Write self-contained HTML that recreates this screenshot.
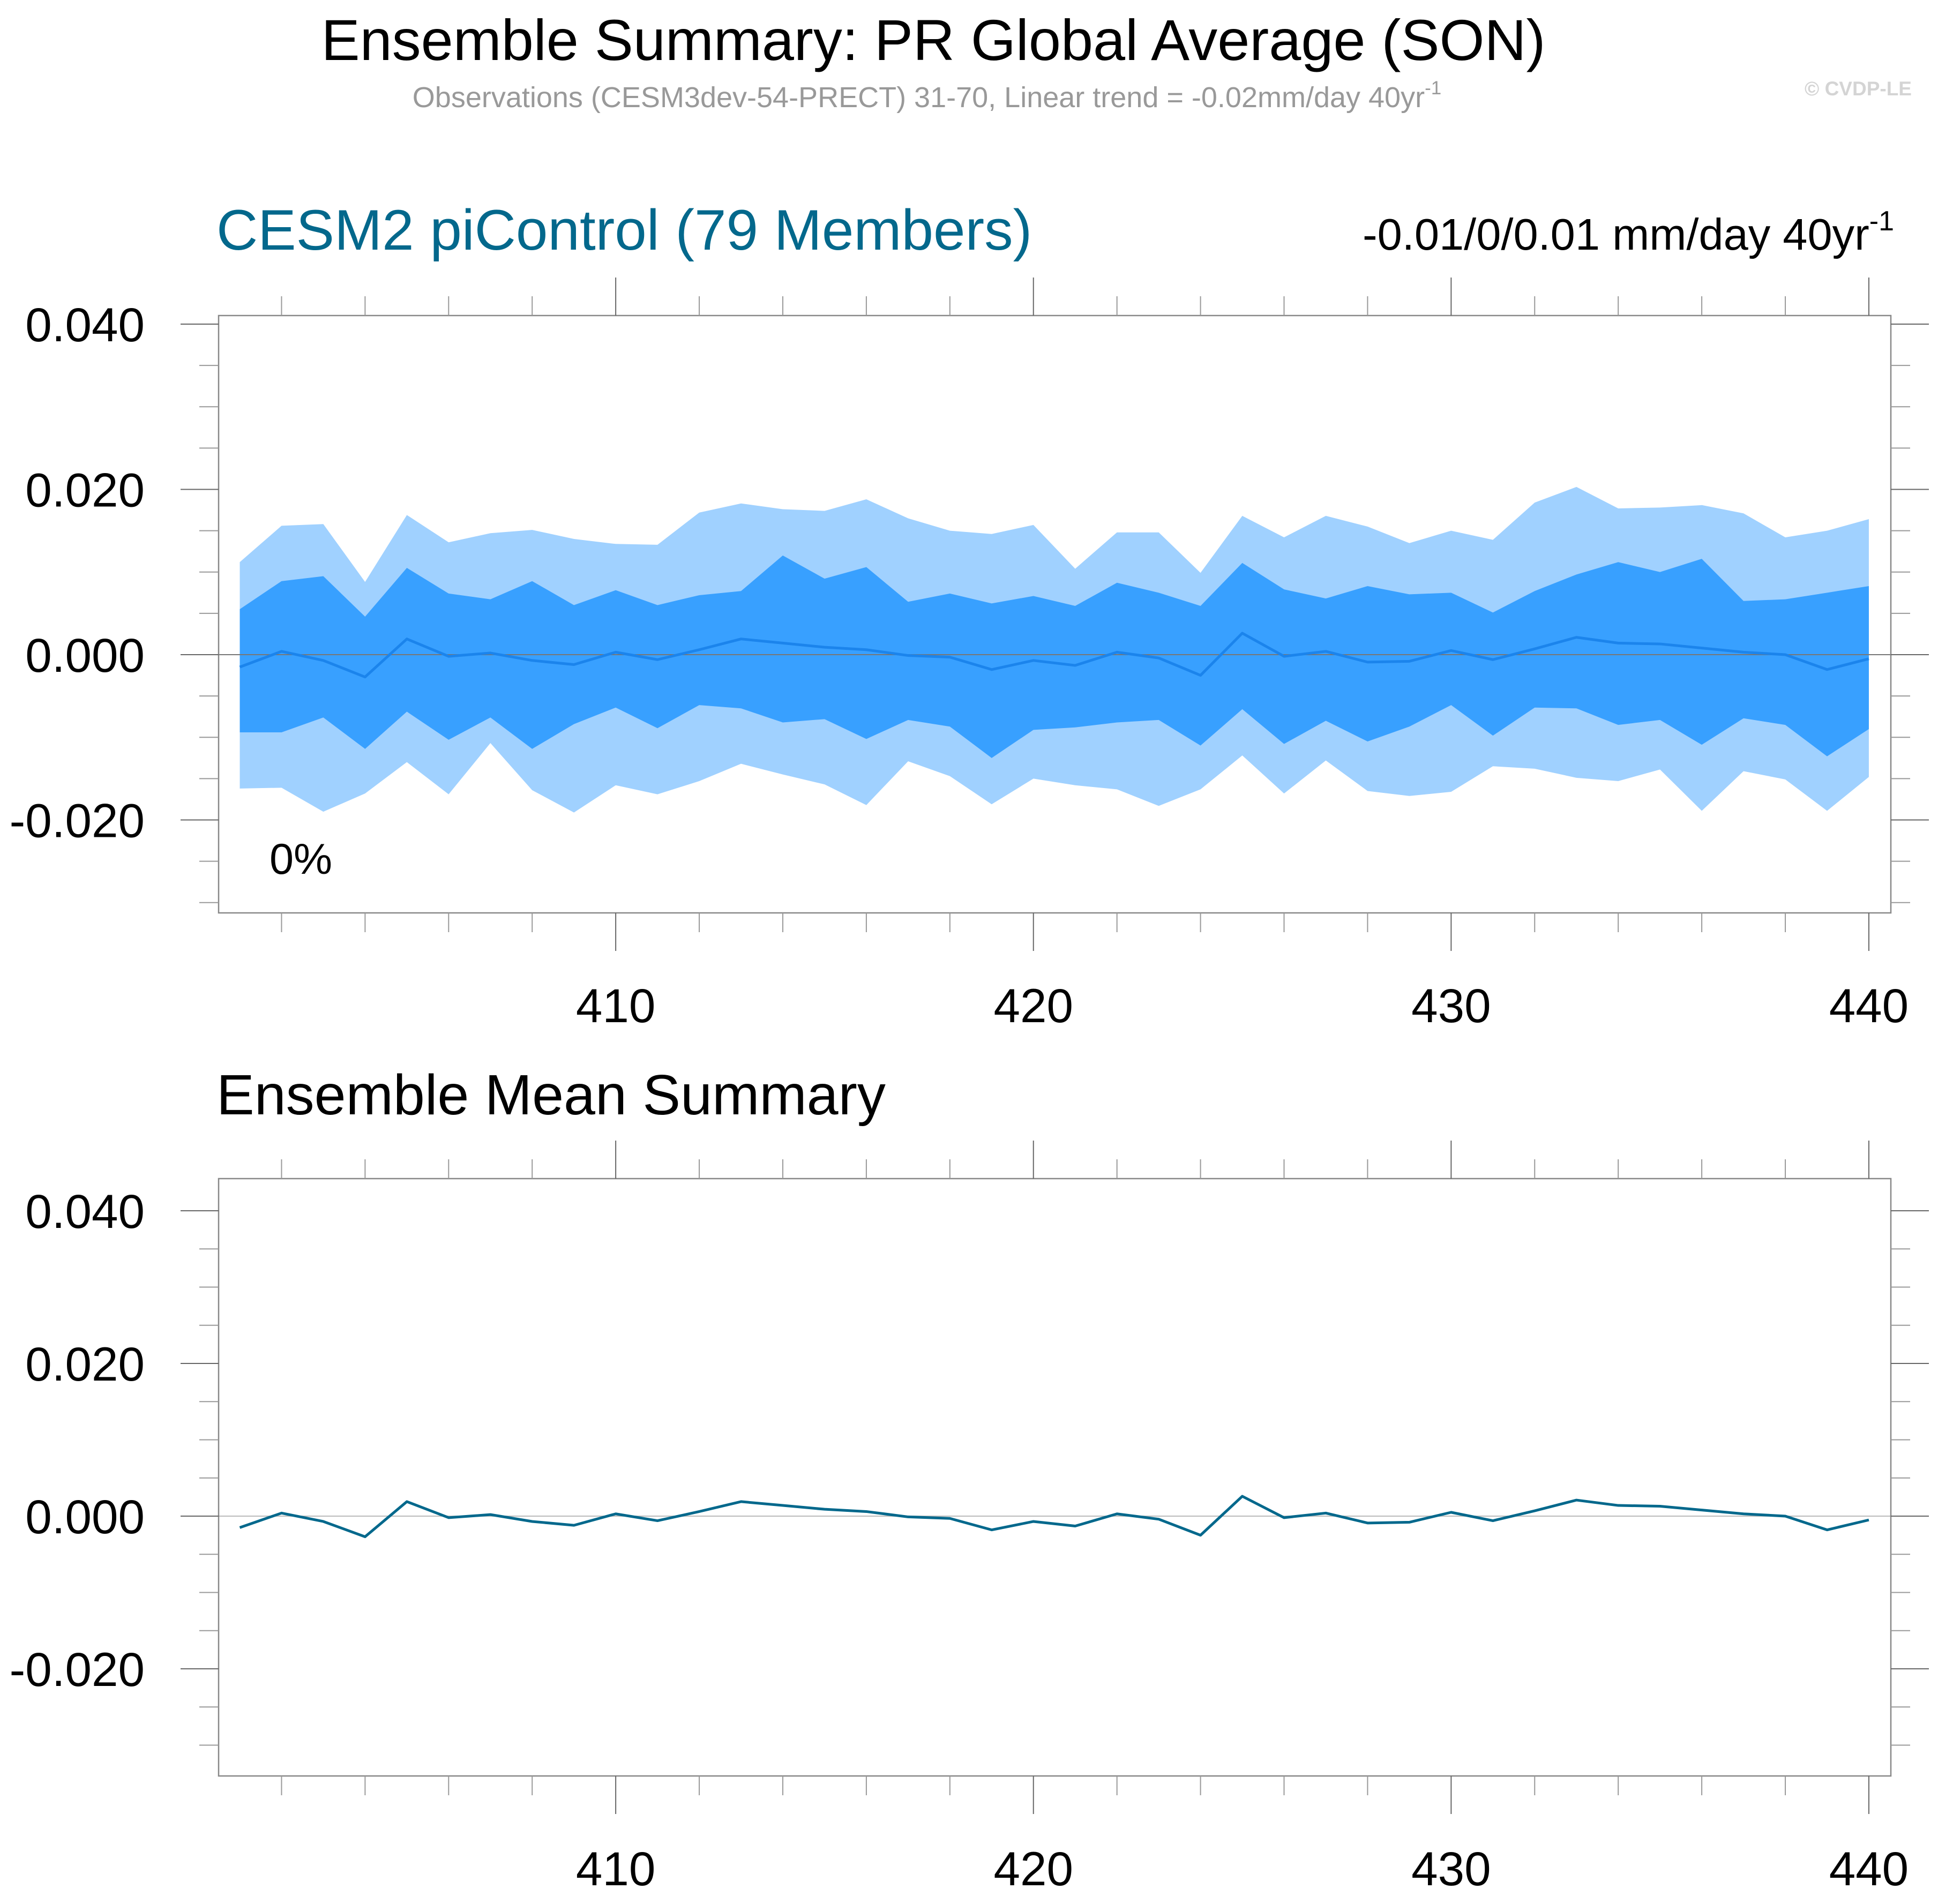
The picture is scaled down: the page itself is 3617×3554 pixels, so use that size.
<!DOCTYPE html>
<html><head><meta charset="utf-8">
<style>
html,body{margin:0;padding:0;background:#fff;}
svg{display:block;font-family:"Liberation Sans",sans-serif;}
</style></head>
<body>
<svg id="chart" width="3617" height="3554" viewBox="0 0 3617 3554" xmlns="http://www.w3.org/2000/svg">
<rect width="3617" height="3554" fill="#fff"/>
<text x="1742" y="112" font-size="108" text-anchor="middle" fill="#000">Ensemble Summary: PR Global Average (SON)</text>
<text x="1730" y="200" font-size="54" text-anchor="middle" fill="#999">Observations (CESM3dev-54-PRECT) 31-70, Linear trend = -0.02mm/day 40yr<tspan dy="-24" font-size="35">-1</tspan></text>
<text x="3568" y="178" font-size="37" font-weight="bold" text-anchor="end" fill="#d4d4d4">© CVDP-LE</text>
<text x="404" y="466" font-size="107" fill="#03688c">CESM2 piControl (79 Members)</text>
<text x="3535" y="466" font-size="83" text-anchor="end" fill="#000">-0.01/0/0.01 mm/day 40yr<tspan dy="-36" font-size="52">-1</tspan></text>
<text x="404" y="2080" font-size="106" fill="#000">Ensemble Mean Summary</text>
<g id="top"></g>
<g id="bot"></g>
<text x="503" y="1631" font-size="81" fill="#000">0%</text>
</svg>
<script>
const years = [];
for (let y = 401; y <= 440; y++) years.push(y);
const outerHigh = [0.0112,0.0156,0.0158,0.0088,0.0169,0.0136,0.0147,0.0151,0.0140,0.0134,0.0133,0.0172,0.0183,0.0176,0.0174,0.0188,0.0165,0.0150,0.0146,0.0157,0.0104,0.0148,0.0148,0.0099,0.0168,0.0142,0.0168,0.0155,0.0135,0.0150,0.0139,0.0184,0.0203,0.0177,0.0178,0.0181,0.0171,0.0142,0.0150,0.0164];
const innerHigh = [0.0055,0.0089,0.0095,0.0046,0.0105,0.0074,0.0067,0.0089,0.0060,0.0078,0.0060,0.0072,0.0077,0.0120,0.0092,0.0106,0.0064,0.0074,0.0062,0.0071,0.0059,0.0087,0.0075,0.0059,0.0111,0.0079,0.0068,0.0083,0.0073,0.0075,0.0051,0.0077,0.0097,0.0112,0.0100,0.0116,0.0065,0.0067,0.0075,0.0083];
const meanVals = [-0.0015,0.0004,-0.0007,-0.0027,0.0019,-0.0002,0.0002,-0.0007,-0.0012,0.0003,-0.0006,0.0006,0.0019,0.0014,0.0009,0.0006,-0.0001,-0.0003,-0.0018,-0.0007,-0.0013,0.0003,-0.0004,-0.0025,0.0026,-0.0002,0.0004,-0.0009,-0.0008,0.0005,-0.0006,0.0007,0.0021,0.0014,0.0013,0.0008,0.0003,0.0000,-0.0018,-0.0005];
const innerLow = [-0.0094,-0.0094,-0.0076,-0.0114,-0.0069,-0.0103,-0.0076,-0.0114,-0.0084,-0.0064,-0.0089,-0.0061,-0.0065,-0.0082,-0.0078,-0.0102,-0.0079,-0.0087,-0.0125,-0.0091,-0.0088,-0.0082,-0.0079,-0.0110,-0.0066,-0.0108,-0.0080,-0.0105,-0.0087,-0.0061,-0.0098,-0.0064,-0.0065,-0.0085,-0.0079,-0.0109,-0.0077,-0.0085,-0.0123,-0.0090];
const outerLow = [-0.0162,-0.0161,-0.0190,-0.0168,-0.0130,-0.0169,-0.0107,-0.0164,-0.0191,-0.0158,-0.0169,-0.0153,-0.0132,-0.0145,-0.0157,-0.0182,-0.0129,-0.0147,-0.0181,-0.0150,-0.0158,-0.0163,-0.0183,-0.0163,-0.0122,-0.0168,-0.0128,-0.0165,-0.0171,-0.0166,-0.0135,-0.0138,-0.0149,-0.0153,-0.0139,-0.0189,-0.0141,-0.0151,-0.0189,-0.0148];
const yMajorTicks = [0.04, 0.02, 0.0, -0.02];
const yMajorLabels = ["0.040", "0.020", "0.000", "-0.020"];
const xMajorTicks = [410, 420, 430, 440];
const xMajorLabels = ["410", "420", "430", "440"];

const NS = "http://www.w3.org/2000/svg";
function mk(parent, tag, attrs) {
  const e = document.createElementNS(NS, tag);
  for (const k in attrs) e.setAttribute(k, attrs[k]);
  parent.appendChild(e);
  return e;
}
const xs = yr => 447.5 + (yr - 401) * 77.96;
const L = 408, R = 3529;

function drawPanel(g, top, bottom, zeroY, pxPer002, isTop) {
  const ys = v => zeroY - v / 0.02 * pxPer002;
  if (isTop) {
    const upPts = years.map((y, i) => xs(y) + "," + ys(outerHigh[i]));
    const loPts = years.map((y, i) => xs(y) + "," + ys(outerLow[i])).reverse();
    const outer = mk(g, "polygon", {points: upPts.concat(loPts).join(" "), fill: "#a0d1ff"});
    
    
    const up2 = years.map((y, i) => xs(y) + "," + ys(innerHigh[i]));
    const lo2 = years.map((y, i) => xs(y) + "," + ys(innerLow[i])).reverse();
    const inner = mk(g, "polygon", {points: up2.concat(lo2).join(" "), fill: "#38a0ff"});
    
    
  }
  const zl = mk(g, "line", {x1: L, x2: R, y1: zeroY, y2: zeroY, stroke: isTop ? "#777" : "#bbb", "stroke-width": 2});
  
  
  const mp = years.map((y, i) => xs(y) + "," + ys(meanVals[i])).join(" ");
  const ml = mk(g, "polyline", {points: mp, fill: "none", stroke: isTop ? "#1b84ec" : "#02688c", "stroke-width": 5, "stroke-linejoin": "round"});
  
  
  const fr = mk(g, "rect", {x: L, y: top, width: R - L, height: bottom - top, fill: "none", stroke: "#888", "stroke-width": 2.5});
  
  
  for (let k = -6; k <= 8; k++) {
    const v = k * 0.005;
    const y = ys(v);
    if (y < top - 1 || y > bottom + 1) continue;
    const major = (k % 4 === 0);
    const len = major ? 71 : 36;
    const t1 = mk(g, "line", {x1: L - len, x2: L, y1: y, y2: y, stroke: major ? "#666" : "#999", "stroke-width": 2});
    
    
    const t2 = mk(g, "line", {x1: R, x2: R + len, y1: y, y2: y, stroke: major ? "#666" : "#999", "stroke-width": 2});
    
    
  }
  yMajorTicks.forEach((v, i) => {
    const t = mk(g, "text", {x: 270, y: ys(v) + 32, "font-size": 89, "text-anchor": "end", fill: "#000"});
    t.textContent = yMajorLabels[i];
    
    
  });
  for (let yr = 402; yr <= 440; yr += 2) {
    const major = yr % 10 === 0;
    const len = major ? 71 : 36;
    const x = xs(yr);
    const a = mk(g, "line", {x1: x, x2: x, y1: top - len, y2: top, stroke: major ? "#666" : "#999", "stroke-width": 2});
    
    
    const b = mk(g, "line", {x1: x, x2: x, y1: bottom, y2: bottom + len, stroke: major ? "#666" : "#999", "stroke-width": 2});
    
    
  }
  xMajorTicks.forEach((yr, i) => {
    const t = mk(g, "text", {x: xs(yr), y: bottom + 204, "font-size": 89, "text-anchor": "middle", fill: "#000"});
    t.textContent = xMajorLabels[i];
    
    
  });
}
drawPanel(document.getElementById("top"), 589, 1704, 1222, 308.5, true);
drawPanel(document.getElementById("bot"), 2200, 3315, 2830, 285, false);
</script>
</body></html>
